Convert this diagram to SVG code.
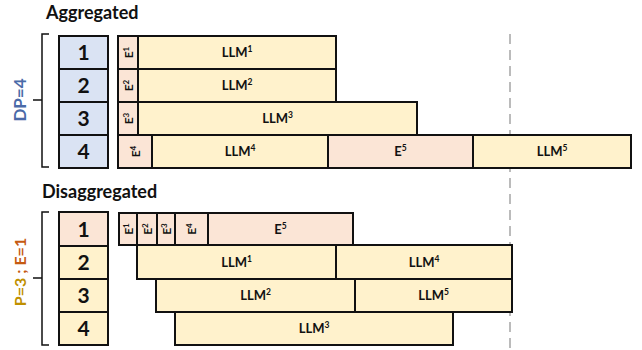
<svg xmlns="http://www.w3.org/2000/svg" width="642" height="350" viewBox="0 0 642 350">
<style>
text{font-family:Lato,"Open Sans","Liberation Sans",sans-serif;font-weight:bold;fill:#111}
.box{stroke:#111;stroke-width:2}
.w{fill:#dae3f3}
.p{fill:#fbe5d6}
.y{fill:#fff2cc}
.num{font-size:21px;text-anchor:middle}
.lbl{font-size:13px;text-anchor:middle}
.e{font-size:12px;text-anchor:middle}
.title{font-size:18px}
.br{fill:none;stroke:#111;stroke-width:1.5}
.sup{font-size:8.5px}
.sups{font-size:8px}
</style>

<text class="title" x="46" y="19">Aggregated</text>
<text class="title" x="42" y="198">Disaggregated</text>

<g id="dash">
<line x1="510" y1="34" x2="510" y2="350" stroke="#bbb" stroke-width="2" stroke-dasharray="10,6"/>
</g>

<g id="connectors">
<path class="br" d="M49,34 H42 V167 H49 M33,100 H42"/>
<path class="br" d="M49,212 H42 V345 H49 M33,278 H42"/>
</g>

<text transform="translate(26,100) rotate(-90)" text-anchor="middle" font-size="17" style="fill:#4a6aa8">DP=4</text>
<text transform="translate(26,272) rotate(-90)" text-anchor="middle" font-size="16"><tspan style="fill:#bf9000">P=3</tspan><tspan style="fill:#c55a11"> ; E=1</tspan></text>

<!-- Aggregated workers -->
<g id="agg-w1"><rect class="box w" x="59" y="36" width="49" height="33"/><text class="num" x="83.5" y="60">1</text></g>
<g id="agg-w2"><rect class="box w" x="59" y="69" width="49" height="33"/><text class="num" x="83.5" y="93">2</text></g>
<g id="agg-w3"><rect class="box w" x="59" y="102" width="49" height="33"/><text class="num" x="83.5" y="126">3</text></g>
<g id="agg-w4"><rect class="box w" x="59" y="135" width="49" height="33"/><text class="num" x="83.5" y="159">4</text></g>

<!-- Aggregated timeline -->
<g id="agg-e1"><rect class="box p" x="118" y="36" width="20" height="33"/><text class="e" transform="translate(128,52.5) rotate(-90)" y="4.5">E<tspan class="sups" dy="-4">1</tspan></text></g>
<g id="agg-llm1"><rect class="box y" x="138" y="36" width="198" height="33"/><text class="lbl" x="237" y="57">LLM<tspan class="sup" dy="-5">1</tspan></text></g>
<g id="agg-e2"><rect class="box p" x="118" y="69" width="20" height="33"/><text class="e" transform="translate(128,85.5) rotate(-90)" y="4.5">E<tspan class="sups" dy="-4">2</tspan></text></g>
<g id="agg-llm2"><rect class="box y" x="138" y="69" width="198" height="33"/><text class="lbl" x="237" y="90">LLM<tspan class="sup" dy="-5">2</tspan></text></g>
<g id="agg-e3"><rect class="box p" x="118" y="102" width="20" height="33"/><text class="e" transform="translate(128,118.5) rotate(-90)" y="4.5">E<tspan class="sups" dy="-4">3</tspan></text></g>
<g id="agg-llm3"><rect class="box y" x="138" y="102" width="279" height="33"/><text class="lbl" x="277.5" y="123">LLM<tspan class="sup" dy="-5">3</tspan></text></g>
<g id="agg-e4"><rect class="box p" x="118" y="135" width="34" height="33"/><text class="e" transform="translate(135,151.5) rotate(-90)" y="4.5">E<tspan class="sups" dy="-4">4</tspan></text></g>
<g id="agg-llm4"><rect class="box y" x="152" y="135" width="176" height="33"/><text class="lbl" x="240" y="156">LLM<tspan class="sup" dy="-5">4</tspan></text></g>
<g id="agg-e5"><rect class="box p" x="328" y="135" width="145" height="33"/><text class="lbl" x="400.5" y="156">E<tspan class="sup" dy="-5">5</tspan></text></g>
<g id="agg-llm5"><rect class="box y" x="473" y="135" width="158" height="33"/><text class="lbl" x="552" y="156">LLM<tspan class="sup" dy="-5">5</tspan></text></g>

<!-- Disaggregated workers -->
<g id="dis-w1"><rect class="box p" x="59" y="212" width="49" height="34"/><text class="num" x="83.5" y="236.5">1</text></g>
<g id="dis-w2"><rect class="box y" x="59" y="246" width="49" height="33"/><text class="num" x="83.5" y="270">2</text></g>
<g id="dis-w3"><rect class="box y" x="59" y="279" width="49" height="33"/><text class="num" x="83.5" y="303">3</text></g>
<g id="dis-w4"><rect class="box y" x="59" y="312" width="49" height="33"/><text class="num" x="83.5" y="336">4</text></g>

<!-- Disaggregated timeline -->
<g id="dis-e1"><rect class="box p" x="119" y="213" width="18" height="32"/><text class="e" transform="translate(128,229) rotate(-90)" y="4.5">E<tspan class="sups" dy="-4">1</tspan></text></g>
<g id="dis-e2"><rect class="box p" x="137" y="213" width="20" height="32"/><text class="e" transform="translate(147,229) rotate(-90)" y="4.5">E<tspan class="sups" dy="-4">2</tspan></text></g>
<g id="dis-e3"><rect class="box p" x="157" y="213" width="18" height="32"/><text class="e" transform="translate(166,229) rotate(-90)" y="4.5">E<tspan class="sups" dy="-4">3</tspan></text></g>
<g id="dis-e4"><rect class="box p" x="175" y="213" width="33" height="32"/><text class="e" transform="translate(191.5,229) rotate(-90)" y="4.5">E<tspan class="sups" dy="-4">4</tspan></text></g>
<g id="dis-e5"><rect class="box p" x="208" y="213" width="145" height="32"/><text class="lbl" x="280.5" y="233.5">E<tspan class="sup" dy="-5">5</tspan></text></g>
<g id="dis-llm1"><rect class="box y" x="137" y="245" width="199" height="34"/><text class="lbl" x="236.5" y="266.5">LLM<tspan class="sup" dy="-5">1</tspan></text></g>
<g id="dis-llm4"><rect class="box y" x="336" y="245" width="176" height="34"/><text class="lbl" x="424" y="266.5">LLM<tspan class="sup" dy="-5">4</tspan></text></g>
<g id="dis-llm2"><rect class="box y" x="156" y="279" width="199" height="33"/><text class="lbl" x="255.5" y="300">LLM<tspan class="sup" dy="-5">2</tspan></text></g>
<g id="dis-llm5"><rect class="box y" x="355" y="279" width="157" height="33"/><text class="lbl" x="433.5" y="300">LLM<tspan class="sup" dy="-5">5</tspan></text></g>
<g id="dis-llm3"><rect class="box y" x="175" y="312" width="278" height="33"/><text class="lbl" x="314" y="333">LLM<tspan class="sup" dy="-5">3</tspan></text></g>
</svg>
